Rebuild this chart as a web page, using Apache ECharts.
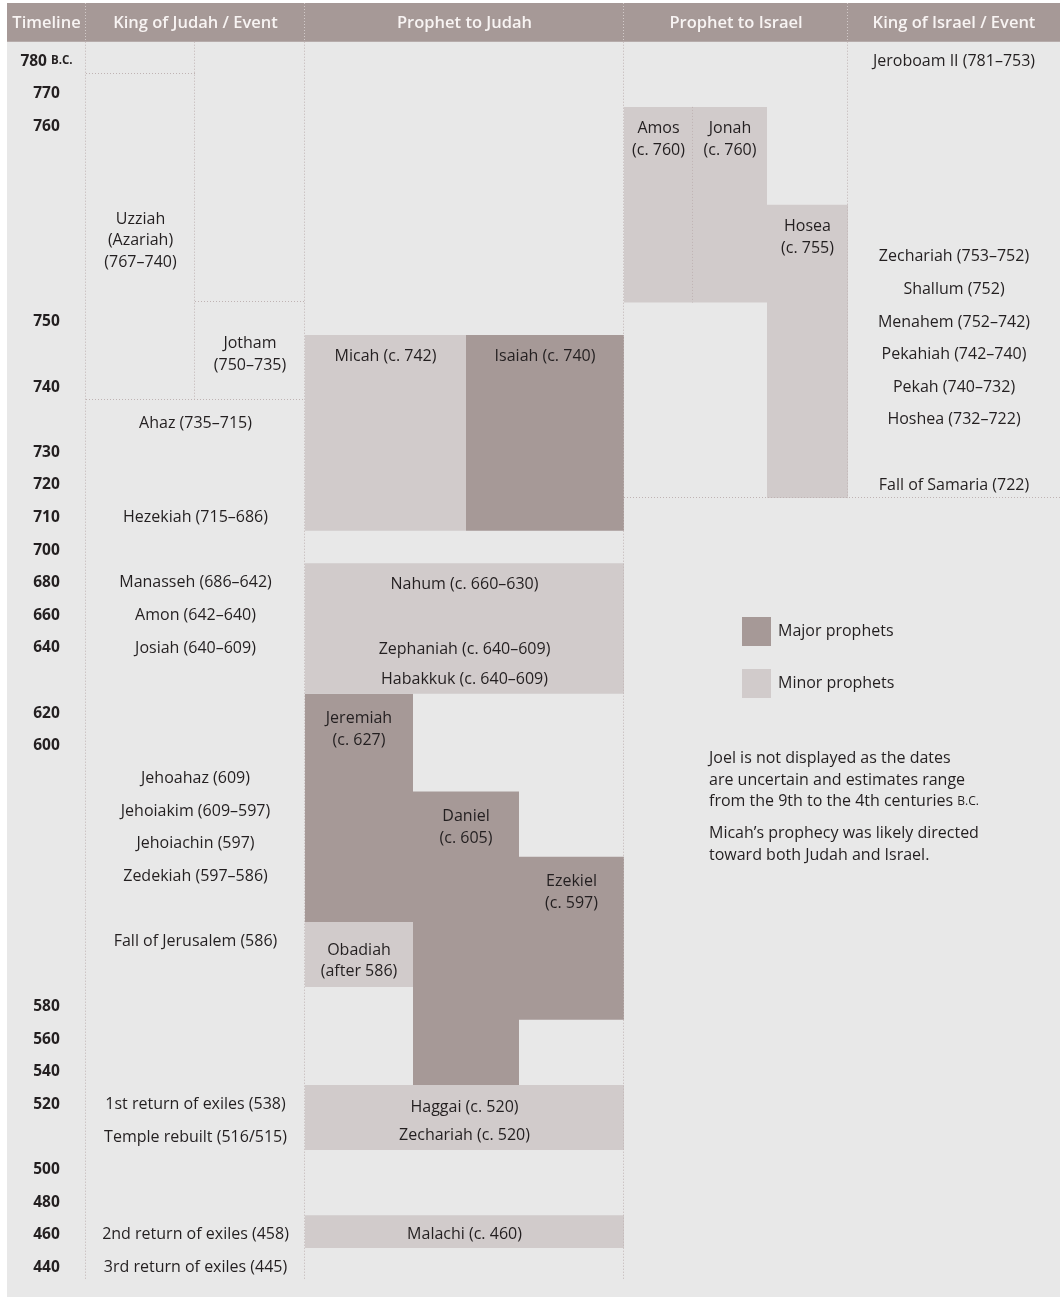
<!DOCTYPE html>
<html><head><meta charset="utf-8">
<script src="https://cdn.jsdelivr.net/npm/echarts@6/dist/echarts.min.js"></script>
<style>html,body{margin:0;padding:0;background:#fff}#c{width:1060px;height:1297px}</style>
</head><body><div id="c"></div><script>
// ---------------- DATA ----------------
const columnHeaders = ['Timeline', 'King of Judah / Event', 'Prophet to Judah', 'Prophet to Israel', 'King of Israel / Event'];
const headerLanes = ['tl', 'jk', 'pj', 'pi', 'ki'];

// one entry per timeline row (row index = position in list)
const timelineLabels = ['780 B.C.','770','760','','','','','','750','','740','','730','720','710','700','680','660','640','','620','600','','','','','','','','580','560','540','520','','500','480','460','440'];

// King of Judah / Event : [text, row]
const judahEvents = [
  ['Ahaz (735–715)', 11.1], ['Hezekiah (715–686)', 14], ['Manasseh (686–642)', 16],
  ['Amon (642–640)', 17], ['Josiah (640–609)', 18], ['Jehoahaz (609)', 22],
  ['Jehoiakim (609–597)', 23], ['Jehoiachin (597)', 24], ['Zedekiah (597–586)', 25],
  ['Fall of Jerusalem (586)', 27], ['1st return of exiles (538)', 32],
  ['Temple rebuilt (516/515)', 33], ['2nd return of exiles (458)', 36],
  ['3rd return of exiles (445)', 37]
];
// kings shown in split sub-lanes : [text, lane, row]
const judahReigns = [
  ['Uzziah\n(Azariah)\n(767–740)', 'jkL', 5.5],
  ['Jotham\n(750–735)', 'jkR', 9]
];
// King of Israel / Event : [text, row]
const israelEvents = [
  ['Jeroboam II (781–753)', 0], ['Zechariah (753–752)', 6], ['Shallum (752)', 7],
  ['Menahem (752–742)', 8], ['Pekahiah (742–740)', 9], ['Pekah (740–732)', 10],
  ['Hoshea (732–722)', 11], ['Fall of Samaria (722)', 13]
];
// prophet boxes : [name, lane, startRow, endRow, kind]
const prophetBoxes = [
  ['Amos', 'pi1', 2, 8, 'minor'], ['Jonah', 'pi2', 2, 8, 'minor'], ['Hosea', 'pi3', 5, 14, 'minor'],
  ['Micah', 'pjA', 9, 15, 'minor'], ['Isaiah', 'pjB', 9, 15, 'major'],
  ['Nahum, Zephaniah, Habakkuk', 'pj', 16, 20, 'minor'],
  ['Jeremiah', 'pj1', 20, 27, 'major'], ['Obadiah', 'pj1', 27, 29, 'minor'],
  ['Daniel', 'pj2', 23, 32, 'major'], ['Ezekiel', 'pj3', 25, 30, 'major'],
  ['Haggai, Zechariah', 'pj', 32, 34, 'minor'], ['Malachi', 'pj', 36, 37, 'minor']
];
// prophet labels : [text, lane, row]
const prophetLabels = [
  ['Amos\n(c. 760)', 'pi1', 2.4], ['Jonah\n(c. 760)', 'pi2', 2.4], ['Hosea\n(c. 755)', 'pi3', 5.4],
  ['Micah (c. 742)', 'pjA', 9.05], ['Isaiah (c. 740)', 'pjB', 9.05],
  ['Nahum (c. 660–630)', 'pj', 16.05], ['Zephaniah (c. 640–609)', 'pj', 18.05], ['Habakkuk (c. 640–609)', 'pj', 18.95],
  ['Jeremiah\n(c. 627)', 'pj1', 20.5], ['Daniel\n(c. 605)', 'pj2', 23.5], ['Ezekiel\n(c. 597)', 'pj3', 25.5],
  ['Obadiah\n(after 586)', 'pj1', 27.6],
  ['Haggai (c. 520)', 'pj', 32.1], ['Zechariah (c. 520)', 'pj', 32.95], ['Malachi (c. 460)', 'pj', 36]
];
const legendNames = ['Major prophets', 'Minor prophets'];
const notes = [
  'Joel is not displayed as the dates\nare uncertain and estimates range\nfrom the 9th to the 4th centuries {sc|B.C.}',
  'Micah’s prophecy was likely directed\ntoward both Judah and Israel.'
];

// ---------------- LAYOUT / STYLE ----------------
const LANE = {tl:[7,86], jk:[86,305], jkL:[86,195], jkR:[195,305], pj:[305,624], pjA:[305,466], pjB:[466,624],
  pj1:[305,413], pj2:[413,519], pj3:[519,624], pi:[624,848], pi1:[624,693], pi2:[693,767], pi3:[767,848], ki:[848,1060]};
const HEADER_TOP = -1.187, ROW_MAX = 38.506;
const FONT = '"Open Sans", "Noto Sans", sans-serif';
const C_TEXT = '#231f20', C_HEAD = '#a69997', C_MAJOR = '#a69997', C_MINOR = '#d1cbcb', C_BG = '#e8e8e8';
const C_DOT = '#bfb3b3', C_DOT_HEAD = '#d2cac9';
const DY = 3.2;
const LINE_H = 21.5;
const FS = 16;

// separators: [x0, x1, r0, r1, inHeader]
const separators = [
  [86,86,0,38], [305,305,0,38], [624,624,0,38], [848,848,0,14], [195,195,0,11], [693,693,2,8],
  [86,195,1,1], [195,305,8,8], [86,305,11,11], [624,1060,14,14],
  [86,86,HEADER_TOP,0,1], [305,305,HEADER_TOP,0,1], [624,624,HEADER_TOP,0,1], [848,848,HEADER_TOP,0,1]
];

const mid = l => (LANE[l][0] + LANE[l][1]) / 2;

function textSeries(name, items, weight, size, scSize) {
  return {
    type: 'custom', name, z: 5, silent: true,
    data: items.map(it => [it.x, it.row + 0.5]),
    renderItem(params, api) {
      const p = api.coord([api.value(0), api.value(1)]);
      const it = items[params.dataIndex];
      return {type: 'text', x: p[0], y: p[1] + DY, style: {
        text: it.text, fill: C_TEXT, fontFamily: FONT, fontSize: size || FS, fontWeight: weight || 'normal',
        align: 'center', verticalAlign: 'middle', textAlign: 'center', textVerticalAlign: 'middle', lineHeight: LINE_H,
        rich: {sc: {fontSize: scSize || 12, fontWeight: weight || 'normal', fontFamily: FONT, fill: C_TEXT, lineHeight: LINE_H}}
      }};
    }
  };
}

function boxSeries(name, kind, color) {
  const boxes = prophetBoxes.filter(b => b[4] === kind);
  return {
    type: 'custom', name, z: 2, silent: true, itemStyle: {color},
    data: boxes.map(b => [LANE[b[1]][0], b[2], LANE[b[1]][1], b[3]]),
    renderItem(params, api) {
      const p0 = api.coord([api.value(0), api.value(1)]);
      const p1 = api.coord([api.value(2), api.value(3)]);
      return {type: 'rect', shape: {x: p0[0], y: p0[1], width: p1[0] - p0[0], height: p1[1] - p0[1]}, style: {fill: color}};
    }
  };
}

const timelineItems = timelineLabels.map((t, i) => ({text: t.replace('B.C.', '{sc|B.C.}'), x: mid('tl'), row: i})).filter(d => d.text);
const judahItems = judahEvents.map(d => ({text: d[0], x: mid('jk'), row: d[1]}))
  .concat(judahReigns.map(d => ({text: d[0], x: mid(d[1]), row: d[2]})));
const israelItems = israelEvents.map(d => ({text: d[0], x: mid('ki'), row: d[1]}));
const prophetItems = prophetLabels.map(d => ({text: d[0], x: mid(d[1]), row: d[2]}));

const chart = echarts.init(document.getElementById('c'), null, {renderer: 'canvas'});
chart.setOption({
  animation: false,
  grid: {left: 7, right: 0, top: 3, bottom: 0, show: true, backgroundColor: C_BG, borderWidth: 0},
  xAxis: {type: 'value', min: 7, max: 1060, show: false},
  yAxis: {type: 'value', inverse: true, min: HEADER_TOP, max: ROW_MAX, show: false},
  legend: {
    data: legendNames, orient: 'vertical', left: 742, top: 617, padding: 0, itemGap: 23,
    itemWidth: 29, itemHeight: 29, icon: 'rect', selectedMode: false,
    textStyle: {fontFamily: FONT, fontSize: FS, color: C_TEXT, padding: [6, 0, 0, 2]}
  },
  title: notes.map((t, i) => ({
    text: t, left: 709, top: i === 0 ? 748 : 823, padding: 0,
    textStyle: {fontFamily: FONT, fontSize: FS, fontWeight: 'normal', color: C_TEXT, lineHeight: LINE_H,
      rich: {sc: {fontSize: 12, fontFamily: FONT, color: C_TEXT, lineHeight: LINE_H}}}
  })),
  series: [
    {
      type: 'custom', name: 'header', z: 3, silent: true,
      data: headerLanes.map(l => [LANE[l][0], HEADER_TOP, LANE[l][1], 0]),
      renderItem(params, api) {
        const p0 = api.coord([api.value(0), api.value(1)]);
        const p1 = api.coord([api.value(2), api.value(3)]);
        return {type: 'group', children: [
          {type: 'rect', shape: {x: p0[0], y: p0[1], width: p1[0] - p0[0], height: p1[1] - p0[1]}, style: {fill: C_HEAD}},
          {type: 'text', x: (p0[0] + p1[0]) / 2, y: (p0[1] + p1[1]) / 2 + 1, style: {
            text: columnHeaders[params.dataIndex], fill: '#f8f4f3', fontFamily: FONT, fontSize: 16.5, fontWeight: 600,
            align: 'center', verticalAlign: 'middle', textAlign: 'center', textVerticalAlign: 'middle'}}
        ]};
      }
    },
    boxSeries('Major prophets', 'major', C_MAJOR),
    boxSeries('Minor prophets', 'minor', C_MINOR),
    {
      type: 'custom', name: 'separators', z: 4, silent: true,
      data: separators.map(s => [s[0], s[2], s[1], s[3], s[4] ? 1 : 0]),
      renderItem(params, api) {
        const p0 = api.coord([api.value(0), api.value(1)]);
        const p1 = api.coord([api.value(2), api.value(3)]);
        const vert = api.value(0) === api.value(2);
        const x1 = vert ? Math.round(p0[0]) - 0.5 : p0[0], x2 = vert ? Math.round(p1[0]) - 0.5 : p1[0];
        const y1 = vert ? p0[1] : Math.round(p0[1]) - 0.5, y2 = vert ? p1[1] : Math.round(p1[1]) - 0.5;
        return {type: 'line', shape: {x1, y1, x2, y2},
          style: {stroke: api.value(4) ? C_DOT_HEAD : C_DOT, lineWidth: 1, lineDash: [1, 2]}};
      }
    },
    textSeries('timeline', timelineItems, 'bold', 15.5, 11.5),
    textSeries('judah', judahItems),
    textSeries('israel', israelItems),
    textSeries('prophets', prophetItems)
  ]
});
</script></body></html>
